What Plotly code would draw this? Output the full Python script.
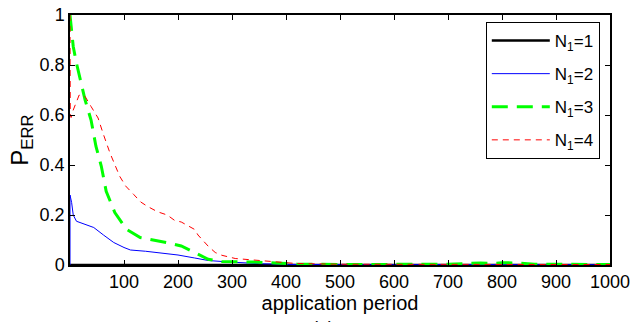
import plotly.graph_objects as go

# ---- data ----
black_x = [0, 200, 400, 600, 800, 1000]
black_y = [0.0, 0.0, 0.0, 0.0, 0.0, 0.0]

blue_x = [0, 0, 3, 6, 12, 25, 44, 62, 81, 100, 112, 140, 162, 200, 231, 256, 294, 330, 356, 419, 500, 600, 700, 800, 900, 1000]
blue_y = [0, 0.28, 0.25, 0.2, 0.175, 0.165, 0.15, 0.12, 0.09, 0.07, 0.06, 0.055, 0.049, 0.04, 0.028, 0.018, 0.012, 0.008, 0.005, 0.002, 0.001, 0.001, 0.002, 0.002, 0.001, 0.001]

green_x = [0, 6, 12, 17, 28, 39, 48, 58, 67, 83, 105, 130, 155, 180, 206, 231, 256, 281, 300, 340, 380, 420, 500, 600, 700, 760, 780, 800, 830, 860, 900, 1000]
green_y = [1.0, 0.874, 0.807, 0.76, 0.66, 0.58, 0.475, 0.395, 0.295, 0.21, 0.142, 0.11, 0.1, 0.089, 0.076, 0.05, 0.023, 0.014, 0.014, 0.012, 0.008, 0.004, 0.002, 0.002, 0.003, 0.008, 0.006, 0.009, 0.008, 0.003, 0.003, 0.002]

red_x = [0, 0.5, 2, 6, 17, 28, 39, 52, 61, 74, 92, 103, 118, 131, 143, 162, 180, 194, 206, 219, 231, 237, 256, 269, 281, 306, 344, 381, 419, 500, 600, 700, 800, 900, 1000]
red_y = [1.0, 0.6, 0.59, 0.62, 0.68, 0.674, 0.634, 0.588, 0.528, 0.448, 0.355, 0.316, 0.282, 0.252, 0.235, 0.213, 0.2, 0.178, 0.172, 0.155, 0.142, 0.12, 0.075, 0.05, 0.039, 0.026, 0.019, 0.013, 0.006, 0.003, 0.002, 0.002, 0.002, 0.002, 0.002]

series_names = ["N<sub>1</sub>=1", "N<sub>1</sub>=2", "N<sub>1</sub>=3", "N<sub>1</sub>=4"]
x_ticks = [100, 200, 300, 400, 500, 600, 700, 800, 900, 1000]
y_ticks = [0, 0.2, 0.4, 0.6, 0.8, 1]
y_tick_labels = ["0", "0.2", "0.4", "0.6", "0.8", "1"]

FONT = "Liberation Sans, Arial, sans-serif"

fig = go.Figure()
styles = [
    dict(color="black", width=2.5, dash="solid"),
    dict(color="#0000ff", width=1, dash="solid"),
    dict(color="#00ff00", width=3, dash="16px,9px"),
    dict(color="#ff0000", width=1, dash="6px,5px"),
]
data = [(black_x, black_y), (blue_x, blue_y), (green_x, green_y), (red_x, red_y)]
for i, ((xs, ys), st) in enumerate(zip(data, styles)):
    fig.add_trace(go.Scatter(x=xs, y=ys, mode="lines", name=series_names[i],
                             line=st, legendgroup=f"g{i}"))

axis_common = dict(showline=True, linecolor="black", linewidth=1.5, mirror="ticks",
                   ticks="inside", ticklen=5, tickcolor="black", tickwidth=1,
                   showgrid=False, zeroline=False, automargin=False,
                   tickfont=dict(family=FONT, size=18, color="black"))

fig.update_xaxes(range=[0, 1000], tickvals=x_ticks,
                 title=dict(text="application period", font=dict(family=FONT, size=20, color="black"), standoff=0),
                 **axis_common)
fig.update_yaxes(range=[0, 1], tickvals=y_ticks, ticktext=y_tick_labels,
                 title=dict(text="P<sub>ERR</sub>", font=dict(family=FONT, size=24, color="black"), standoff=4),
                 **axis_common)

fig.update_layout(
    width=643, height=322,
    margin=dict(l=70, r=33, t=15, b=57),
    plot_bgcolor="white", paper_bgcolor="white",
    font=dict(family=FONT, color="black"),
    legend=dict(x=0.77, y=0.972, xanchor="left", yanchor="top",
                bordercolor="black", borderwidth=1, bgcolor="white",
                font=dict(family=FONT, size=17, color="black"),
                tracegroupgap=8, itemwidth=58),
    annotations=[dict(text="(a)", x=0.469, y=-0.252, xref="paper", yref="paper",
                      xanchor="center", yanchor="middle", showarrow=False,
                      font=dict(family=FONT, size=18, color="black"))],
)

fig.write_html("out.html", config={"displayModeBar": False},
               post_script="document.body.style.margin='0px';")
